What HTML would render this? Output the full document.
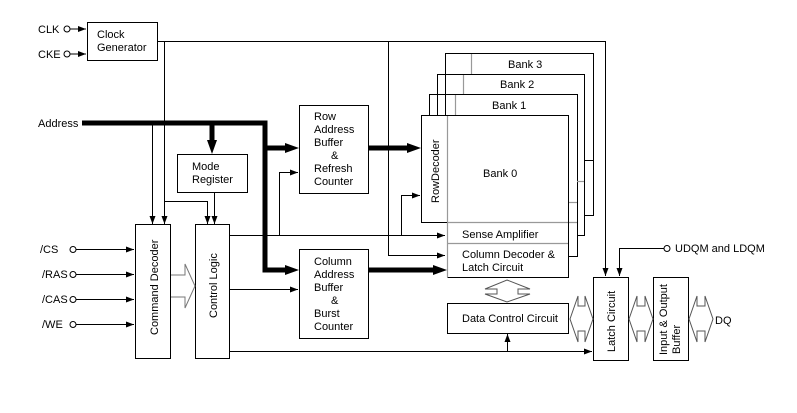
<!DOCTYPE html>
<html><head><meta charset="utf-8"><style>
html,body{margin:0;padding:0;background:#fff}
svg{display:block}
text{font-family:"Liberation Sans",Arial,sans-serif;font-size:11px;fill:#000}
</style></head><body>
<svg width="797" height="413" viewBox="0 0 797 413" xmlns="http://www.w3.org/2000/svg">
<defs>
<marker id="a" markerWidth="8" markerHeight="6" refX="8" refY="3" orient="auto" markerUnits="userSpaceOnUse"><path d="M0,0 L8,3 L0,6z" fill="#000"/></marker>
</defs>
<g fill="none" stroke="#000" stroke-width="1">
<rect x="87.5" y="22.5" width="70" height="38"/>
<circle cx="67" cy="29" r="3"/><circle cx="67" cy="54" r="3"/>
<line x1="70" y1="29" x2="86" y2="29" marker-end="url(#a)"/>
<line x1="70" y1="54" x2="86" y2="54" marker-end="url(#a)"/>
<polyline points="157,41.5 605.5,41.5 605.5,276" marker-end="url(#a)"/>
<line x1="388.5" y1="41" x2="388.5" y2="255"/>
<line x1="388" y1="255.5" x2="445" y2="255.5" marker-end="url(#a)"/>
<line x1="164.5" y1="41" x2="164.5" y2="224" marker-end="url(#a)"/>
<line x1="152.5" y1="123" x2="152.5" y2="224" marker-end="url(#a)"/>
<polyline points="164,201.5 207.5,201.5 207.5,224" marker-end="url(#a)"/>
<line x1="214.5" y1="192" x2="214.5" y2="224" marker-end="url(#a)"/>
<rect x="177.5" y="154.5" width="70" height="38"/>
<rect x="299.5" y="105.5" width="69" height="88"/>
<rect x="299.5" y="249.5" width="69" height="89"/>
<rect x="135.5" y="224.5" width="35" height="134"/>
<rect x="195.5" y="224.5" width="34" height="134"/>
<circle cx="73" cy="249.5" r="3"/><circle cx="73" cy="274.5" r="3"/><circle cx="73" cy="299.5" r="3"/><circle cx="73" cy="324.5" r="3"/>
<line x1="76" y1="249.5" x2="134" y2="249.5" marker-end="url(#a)"/>
<line x1="76" y1="274.5" x2="134" y2="274.5" marker-end="url(#a)"/>
<line x1="76" y1="299.5" x2="134" y2="299.5" marker-end="url(#a)"/>
<line x1="76" y1="324.5" x2="134" y2="324.5" marker-end="url(#a)"/>
<polyline points="171,275 185,275 185,264 195,286 185,308 185,297 171,297" stroke="#777"/>
<line x1="229" y1="235.5" x2="445" y2="235.5" marker-end="url(#a)"/>
<polyline points="279.5,235 279.5,172.5 298,172.5" marker-end="url(#a)"/>
<polyline points="401.5,235 401.5,195.5 420,195.5" marker-end="url(#a)"/>
<line x1="229" y1="289.5" x2="298" y2="289.5" marker-end="url(#a)"/>
<line x1="229" y1="351.5" x2="592" y2="351.5" marker-end="url(#a)"/>
<line x1="507.5" y1="351" x2="507.5" y2="334" marker-end="url(#a)"/>
<polyline points="445.5,115 445.5,53.5 593.5,53.5 593.5,215.5 584,215.5"/>
<polyline points="437.5,115 437.5,74.5 584.5,74.5 584.5,235.5 577,235.5"/>
<polyline points="429.5,115 429.5,94.5 577.5,94.5 577.5,256.5 568,256.5"/>
<line x1="585" y1="160.5" x2="593" y2="160.5"/>
<g stroke="#999" stroke-width="1.2">
<line x1="471.5" y1="54" x2="471.5" y2="74"/>
<line x1="463.5" y1="75" x2="463.5" y2="94"/>
<line x1="455.5" y1="95" x2="455.5" y2="115"/>
<line x1="577" y1="181.5" x2="584" y2="181.5"/>
<line x1="568" y1="202.5" x2="577" y2="202.5"/>
<line x1="447.5" y1="115" x2="447.5" y2="277"/>
<line x1="447" y1="222.5" x2="577" y2="222.5"/>
<line x1="447" y1="243.5" x2="568" y2="243.5"/>
</g>
<polyline points="447.5,115.5 421.5,115.5 421.5,222.5 447,222.5"/>
<polyline points="447.5,115.5 568.5,115.5 568.5,277.5 447.5,277.5"/>
<rect x="447.5" y="303.5" width="121" height="30"/>
<polygon points="507,280 530,289 518,289 518,294 530,294 507,302 485,294 497,294 497,289 485,289" stroke="#555"/>
<rect x="593.5" y="277.5" width="35" height="83"/>
<rect x="653.5" y="277.5" width="35" height="83"/>
<circle cx="667" cy="248.5" r="3"/>
<polyline points="664,248.5 619.5,248.5 619.5,276" marker-end="url(#a)"/>
<g stroke="#555">
<polygon points="570,319 578,296 578,306 585,306 585,296 593,319 585,342 585,331 578,331 578,342"/>
<polygon points="629,319 637,296 637,306 645,306 645,296 653,319 645,342 645,331 637,331 637,342"/>
<polygon points="689,319 697,296 697,306 705,306 705,296 713,319 705,342 705,331 697,331 697,342"/>
</g>
</g>
<g stroke="#000" stroke-width="5" fill="none">
<polyline points="82,123 265,123 265,270 286,270"/>
<line x1="265" y1="148" x2="286" y2="148"/>
<line x1="212" y1="123" x2="212" y2="142"/>
<line x1="368" y1="148" x2="409" y2="148"/>
<line x1="368" y1="270" x2="434" y2="270"/>
</g>
<g fill="#000">
<path d="M285,143 L299,148 L285,153z"/>
<path d="M285,265 L299,270 L285,275z"/>
<path d="M207,140 L212,154 L217,140z"/>
<path d="M407,143 L421,148 L407,153z"/>
<path d="M433,265 L447,270 L433,275z"/>
</g>
<text x="38" y="33">CLK</text>
<text x="38" y="58">CKE</text>
<text x="97" y="38">Clock</text>
<text x="97" y="51">Generator</text>
<text x="38" y="127">Address</text>
<text x="192" y="170">Mode</text>
<text x="192" y="183">Register</text>
<text x="314" y="120">Row</text>
<text x="314" y="133">Address</text>
<text x="314" y="146">Buffer</text>
<text x="331" y="159">&amp;</text>
<text x="314" y="172">Refresh</text>
<text x="314" y="185">Counter</text>
<text x="314" y="265">Column</text>
<text x="314" y="278">Address</text>
<text x="314" y="291">Buffer</text>
<text x="331" y="304">&amp;</text>
<text x="314" y="317">Burst</text>
<text x="314" y="330">Counter</text>
<text x="508" y="68">Bank 3</text>
<text x="500" y="88">Bank 2</text>
<text x="492" y="109">Bank 1</text>
<text x="483" y="177">Bank 0</text>
<text transform="translate(439,203) rotate(-90)">RowDecoder</text>
<text x="462" y="238">Sense Amplifier</text>
<text x="462" y="258">Column Decoder &amp;</text>
<text x="462" y="271">Latch Circuit</text>
<text x="462" y="322">Data Control Circuit</text>
<text x="675" y="252">UDQM and LDQM</text>
<text x="715" y="324">DQ</text>
<text x="40" y="253">/CS</text>
<text x="42" y="278">/RAS</text>
<text x="42" y="303">/CAS</text>
<text x="42" y="328">/WE</text>
<text transform="translate(158,335) rotate(-90)">Command Decoder</text>
<text transform="translate(217,318) rotate(-90)">Control Logic</text>
<text transform="translate(615,352) rotate(-90)">Latch Circuit</text>
<text transform="translate(667,355) rotate(-90)">Input &amp; Output</text>
<text transform="translate(680,354) rotate(-90)">Buffer</text>
</svg>
</body></html>
